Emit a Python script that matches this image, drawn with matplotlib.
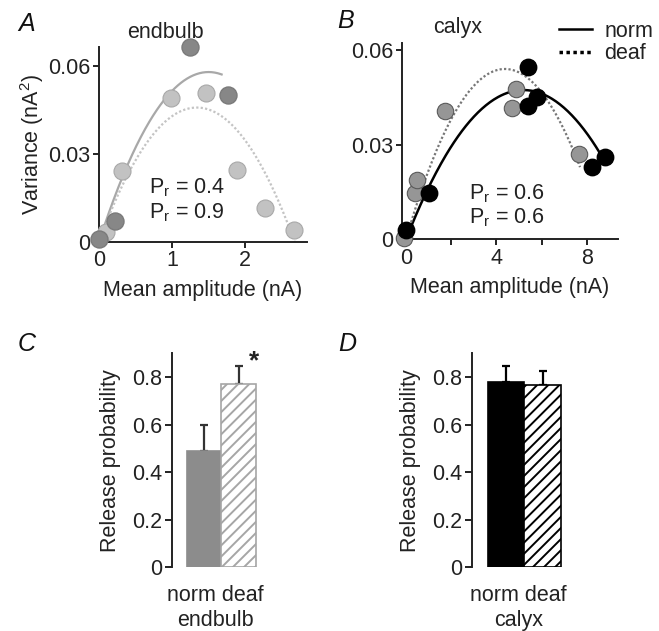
import numpy as np
import matplotlib
matplotlib.use("Agg")
import matplotlib.pyplot as plt
from matplotlib.lines import Line2D

plt.rcParams['font.family'] = ['Liberation Sans', 'DejaVu Sans']
plt.rcParams['mathtext.default'] = 'regular'
plt.rcParams['hatch.linewidth'] = 1.4

W, H = 659, 631

# panel A - endbulb, variance vs mean amplitude
a_norm_x = [0.0, 0.22, 1.25, 1.77]
a_norm_y = [0.001, 0.0073, 0.0666, 0.0503]
a_deaf_x = [0.1, 0.32, 0.98, 1.46, 1.89, 2.28, 2.67]
a_deaf_y = [0.0035, 0.0242, 0.049, 0.0509, 0.0245, 0.0115, 0.0041]
# parabola fit params: q (nA), N, end of fitted range
a_fit_norm = (0.0772, 38.9, 1.68)
a_fit_deaf = (0.0684, 39.2, 2.68)

# panel B - calyx
b_norm_x = [0.0, 1.03, 5.41, 5.38, 5.78, 8.25, 8.8]
b_norm_y = [0.0029, 0.0146, 0.0547, 0.0422, 0.0452, 0.0228, 0.0262]
b_deaf_x = [-0.1, 0.4, 0.5, 1.73, 4.68, 4.85, 7.67]
b_deaf_y = [0.0003, 0.0146, 0.0188, 0.0406, 0.0415, 0.0475, 0.027]
b_fit_norm = (0.01819, 571.7, 8.8)
b_fit_deaf = (0.02466, 355.0, 7.7)

# panels C, D - release probability
groups = ['norm', 'deaf']
c_vals = [0.491, 0.771]
c_err = [0.107, 0.074]
d_vals = [0.781, 0.768]
d_err = [0.064, 0.056]


def parab(fit):
    q, n, xend = fit
    x = np.linspace(0, xend, 200)
    return x, q * x - x ** 2 / n


def pix_axes(fig, left, top, right, bottom):
    return fig.add_axes([left / W, 1 - bottom / H, (right - left) / W, (bottom - top) / H])


fig = plt.figure(figsize=(W / 100, H / 100), dpi=100)
FS = 15.5
TC = '#222222'

# ---------------- A
ax = pix_axes(fig, 99, 47, 307, 242)
x, y = parab(a_fit_norm)
ax.plot(x, y, color='#a8a8a8', lw=1.6)
x, y = parab(a_fit_deaf)
ax.plot(x, y, color='#c4c4c4', lw=1.6, ls=(0, (1, 1)))
ax.scatter(a_deaf_x, a_deaf_y, s=150, c='#c2c2c2', edgecolors='#a8a8a8',
           linewidths=0.8, zorder=3, clip_on=False)
ax.scatter(a_norm_x, a_norm_y, s=150, c='#878787', edgecolors='#7a7a7a', zorder=4, clip_on=False)
ax.set_xlim(0, 2.85)
ax.set_ylim(0, 0.0665)
ax.set_xticks([0, 1, 2])
ax.set_xticklabels(['0', '1', '2'])
ax.set_yticks([0, 0.03, 0.06])
ax.set_yticklabels(['0', '0.03', '0.06'])
ax.set_xlabel('Mean amplitude (nA)', fontsize=FS, color=TC, labelpad=6)
ax.set_ylabel('Variance (nA$^2$)', fontsize=FS, color=TC, labelpad=2)
ax.text(0.68, 0.0185, 'P$_r$ = 0.4', fontsize=FS, color=TC, va='center')
ax.text(0.68, 0.01, 'P$_r$ = 0.9', fontsize=FS, color=TC, va='center')

# ---------------- B
bx = pix_axes(fig, 401.7, 43, 618, 239.3)
x, y = parab(b_fit_norm)
bx.plot(x, y, color='black', lw=1.8)
x, y = parab(b_fit_deaf)
bx.plot(x, y, color='#777777', lw=1.6, ls=(0, (1, 1)))
bx.scatter(b_deaf_x, b_deaf_y, s=140, c='#969696', edgecolors='#5a5a5a',
           linewidths=0.8, zorder=3, clip_on=False)
bx.scatter(b_norm_x, b_norm_y, s=140, c='black', edgecolors='black', zorder=4, clip_on=False)
bx.set_xlim(-0.19, 9.38)
bx.set_ylim(0, 0.0622)
bx.set_xticks([0, 2, 4, 6, 8])
bx.set_xticklabels(['0', '', '4', '', '8'])
bx.set_yticks([0, 0.03, 0.06])
bx.set_yticklabels(['0', '0.03', '0.06'])
bx.set_xlabel('Mean amplitude (nA)', fontsize=FS, color=TC, labelpad=6)
bx.text(2.78, 0.0145, 'P$_r$ = 0.6', fontsize=FS, color=TC, va='center')
bx.text(2.78, 0.0068, 'P$_r$ = 0.6', fontsize=FS, color=TC, va='center')
handles = [Line2D([], [], color='black', lw=1.8),
           Line2D([], [], color='black', lw=2.5, ls=(0, (1, 1)))]
fig.legend(handles, groups, loc='upper left', bbox_to_anchor=(559 / W, 1 - 21 / H),
           frameon=False, fontsize=FS, handlelength=1.55, handletextpad=0.55,
           borderpad=0, borderaxespad=0, labelspacing=0.05, labelcolor=TC)

for a in (ax, bx):
    for s in ('top', 'right'):
        a.spines[s].set_visible(False)
    for s in ('left', 'bottom'):
        a.spines[s].set_linewidth(1.4)
        a.spines[s].set_color(TC)
    a.tick_params(labelsize=FS, length=4, width=1.4, pad=2, colors=TC)


# ---------------- C, D
def bar_panel(rect, vals, errs, fc, hcol, ecol, group):
    axb = pix_axes(fig, *rect)
    bars = axb.bar([0, 1], vals, width=1.0, color=[fc, 'white'],
                   edgecolor=[fc, hcol], linewidth=1.2, zorder=2)
    bars[1].set_hatch('///')
    axb.errorbar([0, 1], vals, yerr=[[0, 0], errs], fmt='none', ecolor=ecol,
                 elinewidth=1.6, capsize=3, capthick=1.6, zorder=1)
    axb.set_xlim(-0.93, 1.6)
    axb.set_ylim(0, 0.9)
    axb.set_yticks([0, 0.2, 0.4, 0.6, 0.8])
    axb.set_yticklabels(['0', '0.2', '0.4', '0.6', '0.8'])
    axb.set_xticks([])
    for s in ('top', 'right', 'bottom'):
        axb.spines[s].set_visible(False)
    axb.spines['left'].set_linewidth(1.4)
    axb.spines['left'].set_color(TC)
    axb.tick_params(labelsize=FS, length=5, width=1.4, pad=2, colors=TC)
    axb.set_ylabel('Release probability', fontsize=FS, color=TC, labelpad=8)
    axb.set_xlabel(' '.join(groups) + '\n' + group, fontsize=FS, color=TC,
                   labelpad=13, linespacing=1.25)
    return axb


cx = bar_panel((171.7, 353.3, 259.7, 567.3), c_vals, c_err, '#8c8c8c', '#a6a6a6', '#333333', 'endbulb')
cx.text(1.45, 0.865, '*', fontsize=19, fontweight='bold', ha='center', va='center', color=TC)
dx = bar_panel((471.7, 353.3, 564.7, 567.3), d_vals, d_err, 'black', 'black', 'black', 'calyx')

# panel letters and titles
for lab, px, py in [('A', 27, 24), ('B', 346, 21), ('C', 27, 344), ('D', 347, 344)]:
    fig.text(px / W, 1 - py / H, lab, fontsize=18, style='italic', ha='center', va='center',
             color='#111111')
fig.text(165 / W, 1 - 32 / H, 'endbulb', fontsize=FS, ha='center', va='center', color=TC)
fig.text(458 / W, 1 - 27 / H, 'calyx', fontsize=FS, ha='center', va='center', color=TC)

fig.savefig('out.png', dpi=100)
